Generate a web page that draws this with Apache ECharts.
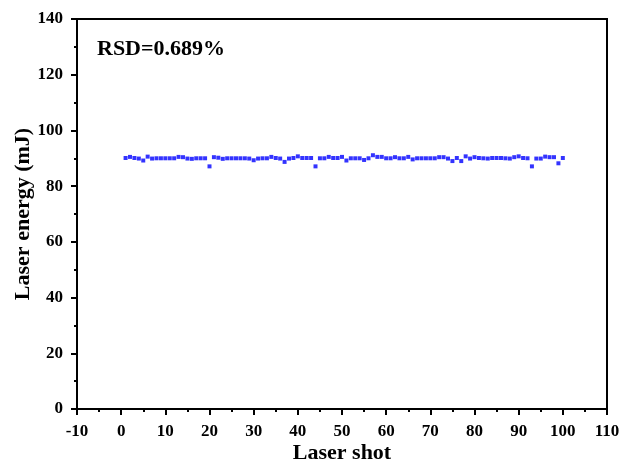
<!DOCTYPE html>
<html>
<head>
<meta charset="utf-8">
<script src="https://cdn.jsdelivr.net/npm/echarts@6/dist/echarts.min.js"></script>
<style>
  html, body { margin: 0; padding: 0; background: #fff; }
  #chart { width: 623px; height: 461px; }
</style>
</head>
<body>
<div id="chart"></div>
<script>
// shot number 1..100
const shots = [];
for (let i = 1; i <= 100; i++) shots.push(i);

// laser energy per shot (mJ)
const energy = [
  90.1, 90.5, 90.1, 89.9, 89.2, 90.6, 89.9, 90.0, 90.0, 90.0,
  90.0, 90.0, 90.5, 90.4, 89.9, 89.8, 90.0, 90.0, 90.0, 87.1,
  90.4, 90.2, 89.8, 90.0, 90.0, 90.0, 90.0, 90.0, 89.9, 89.3,
  89.9, 90.0, 90.0, 90.5, 90.1, 89.9, 88.7, 89.9, 90.1, 90.7,
  90.1, 90.1, 90.1, 87.1, 90.0, 90.0, 90.5, 90.1, 90.1, 90.5,
  89.2, 90.0, 90.0, 90.0, 89.4, 90.0, 91.1, 90.5, 90.5, 90.0,
  90.0, 90.4, 90.0, 90.0, 90.5, 89.6, 90.0, 90.0, 90.0, 90.0,
  90.0, 90.4, 90.4, 89.9, 89.0, 90.1, 89.0, 90.7, 89.9, 90.4,
  90.1, 90.0, 89.9, 90.1, 90.1, 90.1, 90.0, 89.9, 90.4, 90.7,
  90.1, 90.0, 87.1, 89.9, 89.9, 90.6, 90.4, 90.4, 88.2, 90.1
];

const rsdLabel = 'RSD=0.689%';

const font = '"Liberation Serif", "Times New Roman", serif';

const chart = echarts.init(document.getElementById('chart'));

const axisCommon = {
  nameMoveOverlap: false,
  axisLine: { show: true, onZero: false, lineStyle: { color: '#000', width: 2 } },
  axisTick: { show: true, inside: false, length: 6, lineStyle: { color: '#000', width: 2 } },
  minorTick: { show: true, splitNumber: 2, length: 3, lineStyle: { color: '#000', width: 2 } },
  splitLine: { show: false },
  axisLabel: { color: '#000', fontFamily: font, fontWeight: 'bold', fontSize: 17, margin: 14 },
  nameTextStyle: { color: '#000', fontFamily: font, fontWeight: 'bold', fontSize: 22 }
};

chart.setOption({
  animation: false,
  backgroundColor: '#fff',
  grid: {
    left: 77, right: 16, top: 19, bottom: 52,
    outerBoundsMode: 'none',
    show: true, borderColor: '#000', borderWidth: 2, backgroundColor: 'transparent'
  },
  xAxis: Object.assign({}, axisCommon, {
    type: 'value',
    min: -10,
    max: 110,
    interval: 10,
    name: 'Laser shot',
    nameLocation: 'middle',
    nameGap: 33
  }),
  yAxis: Object.assign({}, axisCommon, {
    type: 'value',
    min: 0,
    max: 140,
    interval: 20,
    name: 'Laser energy (mJ)',
    nameLocation: 'middle',
    nameGap: 43
  }),
  graphic: [{
    type: 'text',
    left: 97,
    top: 38,
    style: {
      text: rsdLabel,
      fill: '#000',
      font: 'bold 22px ' + font
    }
  }],
  series: [{
    type: 'scatter',
    symbol: 'rect',
    symbolSize: 4,
    itemStyle: { color: '#0000ff' },
    data: shots.map((s, i) => [s, energy[i]])
  }]
});
</script>
</body>
</html>
